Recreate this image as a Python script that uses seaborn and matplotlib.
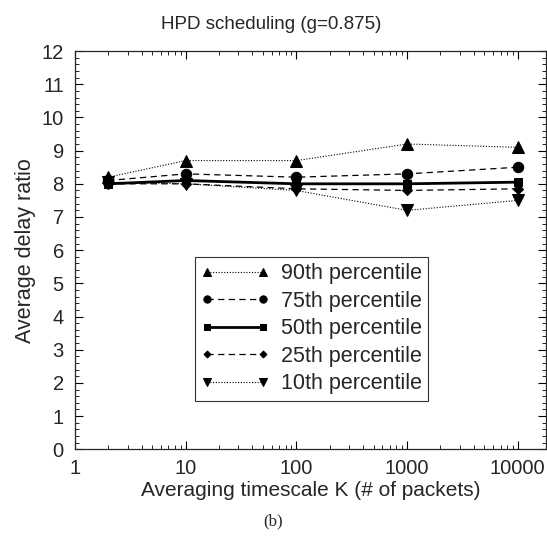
import numpy as np
import pandas as pd
import matplotlib
matplotlib.use("Agg")
import matplotlib.pyplot as plt
import seaborn as sns
from matplotlib.ticker import LogLocator, MultipleLocator, NullFormatter

# data
k_values = [2, 10, 100, 1000, 10000]
p90 = [8.2, 8.7, 8.7, 9.2, 9.1]
p75 = [8.1, 8.3, 8.2, 8.3, 8.5]
p50 = [8.0, 8.1, 8.0, 8.0, 8.05]
p25 = [8.0, 8.0, 7.85, 7.8, 7.85]
p10 = [8.05, 8.0, 7.8, 7.2, 7.5]
series_names = ["90th percentile", "75th percentile", "50th percentile",
                "25th percentile", "10th percentile"]

df = pd.DataFrame({
    "K": k_values * 5,
    "ratio": p90 + p75 + p50 + p25 + p10,
    "series": np.repeat(series_names, len(k_values)),
})

sns.set_style("ticks")
plt.rcParams["font.family"] = ["Liberation Sans", "DejaVu Sans"]

fig = plt.figure(figsize=(5.47, 5.38), dpi=100)
ax = fig.add_axes([0.137, 0.165, 0.861, 0.74])

styles = {
    "90th percentile": dict(marker="^", ls=(0, (1, 1.5)), lw=0.8, ms=8),
    "75th percentile": dict(marker="o", ls=(0, (5, 3.5)), lw=0.9, ms=7.5),
    "50th percentile": dict(marker="s", ls="-", lw=2.0, ms=6),
    "25th percentile": dict(marker="D", ls=(0, (5, 3.5)), lw=0.9, ms=5),
    "10th percentile": dict(marker="v", ls=(0, (1, 1.5)), lw=0.8, ms=8),
}

for name in series_names:
    st = styles[name]
    sub = df[df["series"] == name]
    sns.lineplot(data=sub, x="K", y="ratio", ax=ax, color="black",
                 marker=st["marker"], markersize=st["ms"], linestyle=st["ls"],
                 linewidth=st["lw"], markeredgecolor="black", label=name)

ax.set_xscale("log")
ax.set_xlim(1, 18000)
ax.set_ylim(0, 12)
ax.set_xticks([1, 10, 100, 1000, 10000])
ax.set_xticklabels(["1", "10", "100", "1000", "10000"])
ax.xaxis.set_minor_locator(LogLocator(base=10, subs=np.arange(2, 10)))
ax.xaxis.set_minor_formatter(NullFormatter())
ax.yaxis.set_major_locator(MultipleLocator(1))
ax.yaxis.set_minor_locator(MultipleLocator(0.2))

ax.tick_params(which="both", direction="in", top=True, right=True,
               labelsize=14.5, color="black")
ax.tick_params(which="major", length=6, width=0.8)
ax.tick_params(which="minor", length=3, width=0.6)
ax.tick_params(axis="x", which="major", pad=7)
ax.tick_params(axis="y", which="major", pad=8)
for sp in ax.spines.values():
    sp.set_linewidth(0.9)

fig.text(0.495, 0.955, "HPD scheduling (g=0.875)", ha="center", va="center",
         fontsize=13.5)
ax.set_xlabel("Averaging timescale K (# of packets)", fontsize=15, labelpad=2)
ax.set_ylabel("Average delay ratio", fontsize=15.5, labelpad=4)

leg = ax.legend(loc="upper left", bbox_to_anchor=(0.254, 0.483), fontsize=15.5,
                frameon=True, fancybox=False, edgecolor="black",
                numpoints=2, handlelength=3.2, handletextpad=0.5,
                borderpad=0.3, labelspacing=0.3, borderaxespad=0)
leg.get_frame().set_linewidth(0.8)
for h in leg.legend_handles:
    h.set_markersize(h.get_markersize() * 0.7)

fig.text(0.5, 0.03, "(b)", ha="center", va="center", fontsize=12,
         family="Liberation Serif")

fig.savefig("out.png", dpi=100)
